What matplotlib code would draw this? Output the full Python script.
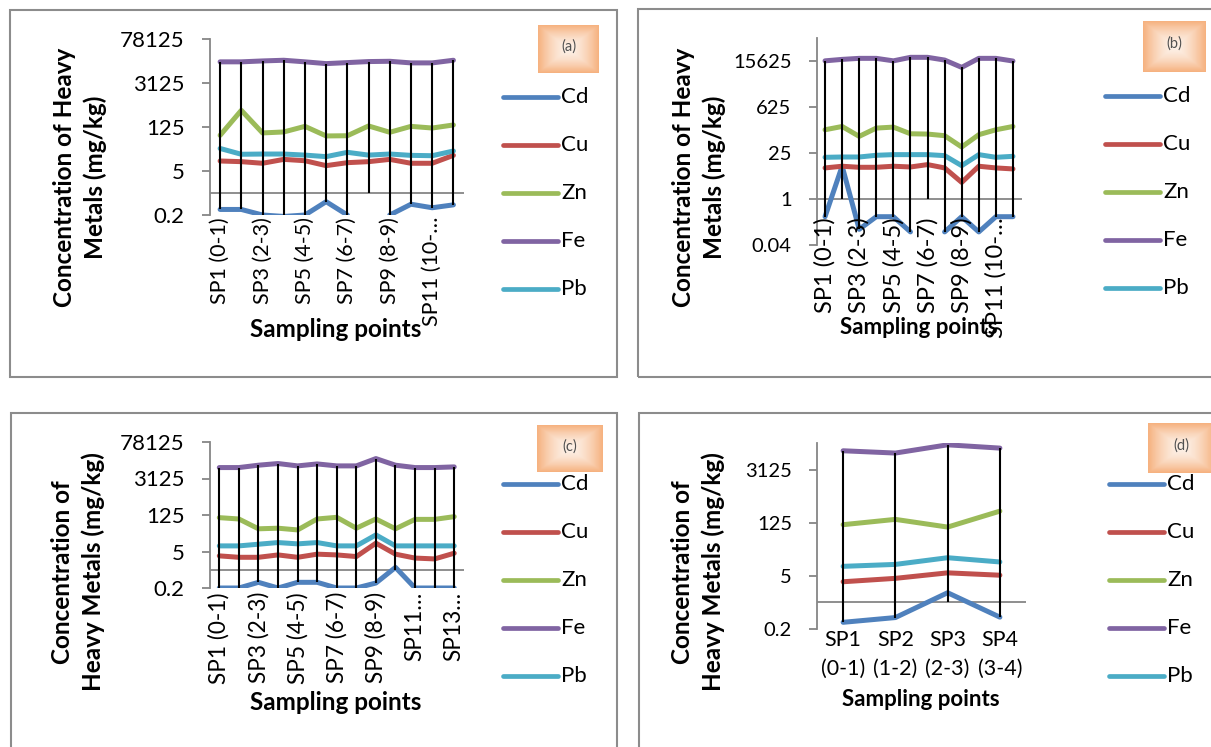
import numpy as np
import matplotlib
matplotlib.use("Agg")
import matplotlib.pyplot as plt
from matplotlib.lines import Line2D
from matplotlib.patches import Rectangle
from matplotlib.ticker import FixedLocator, NullLocator

plt.rcParams['font.family'] = ['Lato', 'DejaVu Sans']

W, H = 1211, 747
nan = np.nan

metals = ["Cd", "Cu", "Zn", "Fe", "Pb"]
colors = ["#4F81BD", "#C0504D", "#9BBB59", "#8064A2", "#4BACC6"]

# ---- panel (a): 12 sampling points
cats_a = ["SP1 (0-1)", "SP2 (1-2)", "SP3 (2-3)", "SP4 (3-4)", "SP5 (4-5)", "SP6 (5-6)",
          "SP7 (6-7)", "SP8 (7-8)", "SP9 (8-9)", "SP10 (9-10)", "SP11 (10-11)", "SP12 (11-12)"]
labels_a = ["SP1 (0-1)", "", "SP3 (2-3)", "", "SP5 (4-5)", "", "SP7 (6-7)", "", "SP9 (8-9)", "", "SP11 (10-…", ""]
cd_a = [0.30, 0.30, 0.2, 0.18, 0.2, 0.53, 0.2, nan, 0.2, 0.44, 0.34, 0.42]
cu_a = [10.4, 9.9, 8.8, 11.7, 10.6, 7.4, 9.2, 9.9, 11.7, 8.8, 8.8, 15.7]
zn_a = [68, 423, 81, 87, 131, 65, 66, 135, 85, 131, 116, 145]
fe_a = [14700, 14700, 15700, 16500, 14700, 12900, 13900, 15000, 15300, 13600, 13600, 16500]
pb_a = [26, 17, 17.3, 17.3, 16, 14.3, 19.6, 16, 17.3, 15.7, 15.3, 21.6]

# ---- panel (b): 12 sampling points
cats_b = cats_a
labels_b = labels_a
cd_b = [0.29, 10, 0.12, 0.29, 0.29, 0.10, nan, 0.10, 0.29, 0.10, 0.29, 0.29]
cu_b = [8.8, 9.9, 9.2, 9.2, 9.9, 9.4, 11.1, 8.8, 3.2, 9.9, 8.8, 8.2]
zn_b = [127, 160, 80, 143, 153, 96, 94, 84, 38, 90, 127, 160]
fe_b = [15800, 17500, 18800, 18800, 15800, 20200, 20200, 16700, 10000, 18800, 18800, 15600]
pb_b = [18.5, 18.9, 18.9, 21.3, 22.3, 22.3, 22.3, 20.8, 10.3, 22.3, 18.5, 19.8]

# ---- panel (c): 13 sampling points
cats_c = cats_a + ["SP13 (12-13)"]
labels_c = ["SP1 (0-1)", "", "SP3 (2-3)", "", "SP5 (4-5)", "", "SP7 (6-7)", "", "SP9 (8-9)", "", "SP11…", "", "SP13…"]
cd_c = [0.2, 0.2, 0.33, 0.2, 0.33, 0.33, 0.2, 0.2, 0.31, 1.23, 0.2, 0.2, 0.2]
cu_c = [3.4, 3.0, 3.0, 3.7, 3.0, 3.95, 3.7, 3.2, 10.4, 3.95, 2.8, 2.6, 4.3]
zn_c = [99, 88, 37, 39, 33.5, 88, 102, 39, 88, 37, 85, 85, 108]
fe_c = [8200, 8200, 10100, 11700, 9500, 11300, 9500, 9500, 18100, 10100, 8200, 8200, 8700]
pb_c = [8.2, 8.2, 9.5, 11, 9.8, 11, 8.2, 8.2, 21.6, 8.2, 8.2, 8.2, 8.2]

# ---- panel (d): 4 sampling points
cats_d = ["SP1 (0-1)", "SP2 (1-2)", "SP3 (2-3)", "SP4 (3-4)"]
labels_d = ["SP1\n(0-1)", "SP2\n(1-2)", "SP3\n(2-3)", "SP4\n(3-4)"]
cd_d = [0.30, 0.40, 1.8, 0.41]
cu_d = [3.5, 4.3, 6.0, 5.2]
zn_d = [111, 153, 96, 252]
fe_d = [9760, 8500, 14000, 11470]
pb_d = [8.9, 10, 15, 11.6]

ticks_a = [0.2, 5, 125, 3125, 78125]
ticks_b = [0.04, 1, 25, 625, 15625]
ticks_d = [0.2, 5, 125, 3125]

fig = plt.figure(figsize=(W / 100, H / 100), dpi=100)


def fx(px):
    return px / W


def fy(py):
    return 1 - py / H


def panel(rect, series, ylim, yticks, labels, tick_top, xt_fs, yt_fs,
          ylab, ylab_xy, xlab_xy, xl_fs, leg, tag, tag_box, two_line=False):
    l, t, r, b = rect
    ax = fig.add_axes([fx(l), fy(b), (r - l) / W, (b - t) / H])
    n = len(series[0])
    x = np.arange(n)
    ax.set_yscale('log')
    ax.set_xlim(-0.5, n - 0.5)
    ax.set_ylim(*ylim)
    for s, c in zip(series, colors):
        ax.plot(x, s, color=c, lw=3.6, solid_capstyle='round',
                solid_joinstyle='round', zorder=2)
    # drop lines: from the highest point down to the lower of the category axis (at 1) and the lowest point
    data = np.array(series, dtype=float)
    top = np.nanmax(data, axis=0)
    bot = np.minimum(np.nanmin(data, axis=0), 1)
    ax.vlines(x, bot, top, color='black', lw=1.5, zorder=3)
    ax.axhline(1, color='#868686', lw=1.3, zorder=1)
    for sp in ['top', 'right', 'bottom']:
        ax.spines[sp].set_visible(False)
    ax.spines['left'].set_color('#868686')
    ax.spines['left'].set_linewidth(1.3)
    ax.yaxis.set_major_locator(FixedLocator(yticks))
    ax.yaxis.set_minor_locator(NullLocator())
    ax.set_yticklabels([("%g" % v) for v in yticks])
    ax.tick_params(axis='y', length=6, width=1.3, color='#868686', pad=12,
                   labelsize=yt_fs)
    ax.set_xticks([])
    yfrac = (b - tick_top) / (b - t)
    for i, lab in enumerate(labels):
        if not lab:
            continue
        if two_line:
            ax.text(i, yfrac, lab, transform=ax.get_xaxis_transform(),
                    ha='center', va='top', fontsize=xt_fs, linespacing=1.55)
        else:
            ax.text(i, yfrac, lab, transform=ax.get_xaxis_transform(),
                    rotation=90, ha='center', va='top', fontsize=xt_fs)
    ax.set_facecolor('none')

    fig.text(fx(ylab_xy[0]), fy(ylab_xy[1]), ylab, rotation=90, ha='center',
             va='center', fontsize=17.5, fontweight='bold', linespacing=1.35,
             multialignment='center')
    fig.text(fx(xlab_xy[0]), fy(xlab_xy[1]), "Sampling points", ha='center',
             va='center', fontsize=xl_fs, fontweight='bold')

    # legend
    x0, x1, y0 = leg
    for i, (m, c) in enumerate(zip(metals, colors)):
        yy = y0 + 48 * i
        fig.add_artist(Line2D([fx(x0), fx(x1)], [fy(yy), fy(yy)], color=c,
                              lw=3.4, solid_capstyle='round'))
        fig.text(fx(x1 + 3), fy(yy), m, ha='left', va='center', fontsize=16)

    # tag box
    bl, bt, br, bb = tag_box
    tax = fig.add_axes([fx(bl), fy(bb), (br - bl) / W, (bb - bt) / H])
    yy, xx = np.mgrid[-1:1:40j, -1:1:50j]
    rr = np.clip(np.maximum(np.abs(xx), np.abs(yy)) ** 1.6, 0, 1)[..., None]
    cin = np.array([253, 240, 230]) / 255
    cout = np.array([246, 178, 128]) / 255
    tax.imshow(cin * (1 - rr) + cout * rr, aspect='auto', extent=(0, 1, 0, 1))
    tax.set_axis_off()
    tax.text(0.5, 0.55, tag, ha='center', va='center', fontsize=10.5,
             color='#505050', transform=tax.transAxes)
    return ax


# panel borders
for (l, t, r, b) in [(10, 10, 617, 377), (638, 9, 1220, 377),
                     (11, 413, 617, 760), (639, 413, 1220, 760)]:
    fig.add_artist(Rectangle((fx(l), fy(b)), (r - l) / W, (b - t) / H,
                             transform=fig.transFigure, fill=False,
                             edgecolor='#8C8C8C', lw=1.5))

panel((209.5, 39, 464, 215), [cd_a, cu_a, zn_a, fe_a, pb_a], (0.2, 78125), ticks_a,
      labels_a, 217, 15.5, 16, "Concentration of Heavy\nMetals (mg/kg)", (80, 177),
      (336, 330), 17.5, (503, 558, 97), "(a)", (538, 25, 599, 73))

panel((816.5, 38, 1021.5, 245), [cd_b, cu_b, zn_b, fe_b, pb_b], (0.04, 78125), ticks_b,
      labels_b, 217, 17, 14.5, "Concentration of Heavy\nMetals (mg/kg)", (699, 177),
      (919, 328), 16, (1105, 1160, 96), "(b)", (1143, 21, 1206, 72))

panel((209.5, 442, 464, 588), [cd_c, cu_c, zn_c, fe_c, pb_c], (0.2, 78125), ticks_a,
      labels_c, 592, 16.3, 16, "Concentration of\nHeavy Metals (mg/kg)", (78, 572),
      (336, 702), 17.5, (503, 558, 484), "(c)", (537, 425, 603, 472))

panel((817, 443, 1026, 629), [cd_d, cu_d, zn_d, fe_d, pb_d], (0.2, 15625), ticks_d,
      labels_d, 630, 15.5, 14.5, "Concentration of\nHeavy Metals (mg/kg)", (698, 572),
      (921, 700), 16, (1109, 1164, 484), "(d)", (1148, 423, 1215, 473), two_line=True)

fig.savefig("out.png", dpi=100)
